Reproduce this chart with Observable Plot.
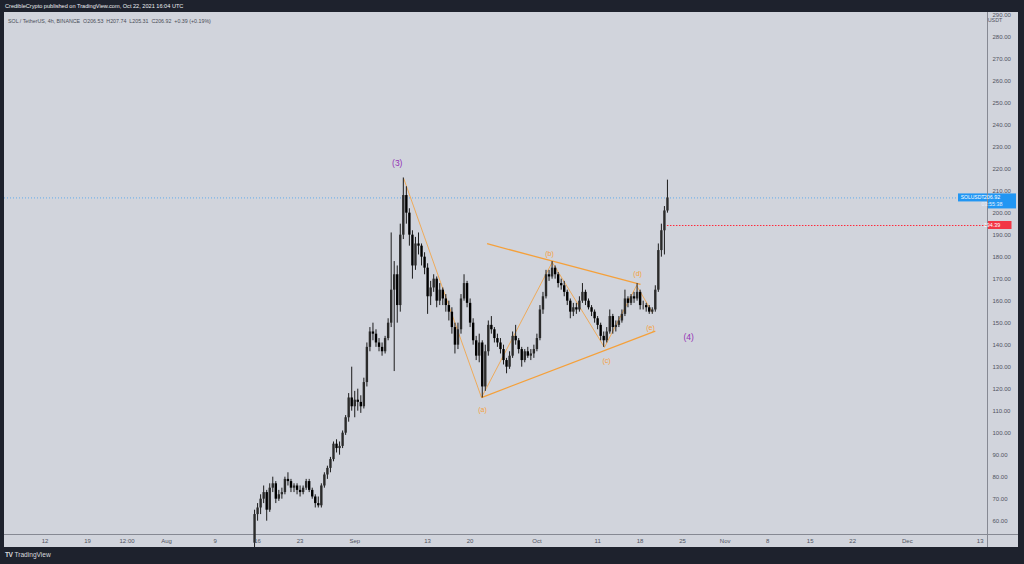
<!DOCTYPE html>
<html><head><meta charset="utf-8">
<script src="https://cdn.jsdelivr.net/npm/d3@7"></script>
<script src="https://cdn.jsdelivr.net/npm/@observablehq/plot@0.6"></script>
<style>
html,body{margin:0;padding:0;background:#1e222d;width:1024px;height:564px;overflow:hidden;font-family:"Liberation Sans",Arial,sans-serif;}
#pane{position:absolute;left:4px;top:12px;width:1014px;height:535px;background:#d1d4dc;}
#chart{position:absolute;left:0;top:0;}
#hdr{position:absolute;left:5px;top:2.5px;font-size:5.6px;color:#eceef2;white-space:nowrap;}
#legend{position:absolute;left:8px;top:17.5px;font-size:5.3px;color:#4a4d57;white-space:nowrap;}
#logo{position:absolute;left:5px;top:551px;font-size:6.6px;color:#d8d9de;white-space:nowrap;}
#logo b{font-weight:bold;letter-spacing:-0.5px;margin-right:2px;}
.vsep{position:absolute;left:987px;top:12px;width:1px;height:535px;background:#868993;}
.hsep{position:absolute;left:4px;top:534px;width:1014px;height:1px;background:#868993;}
</style></head>
<body>
<div id="pane"></div>
<div class="vsep"></div>
<div class="hsep"></div>
<div id="chart"></div>
<div id="hdr">CredibleCrypto published on TradingView.com, Oct 22, 2021 16:04 UTC</div>
<div id="legend">SOL / TetherUS, 4h, BINANCE &nbsp;O206.53 &nbsp;H207.74 &nbsp;L205.31 &nbsp;C206.92 &nbsp;+0.39 (+0.19%)</div>
<div id="logo"><b>TV</b>TradingView</div>
<script>
// ---- candle data (12h bars) ----
const opens = [
 50,63,66,70,73,65,75,77,70,72,
 73,79,78,75,76,74,73,75,78,74,
 71,68,67,76,81,84,88,95,93,94,
 100,107,116,112,115,114,112,123,139,146,
 145,141,139,137,143,150,165,172,158,190,
 208,200,190,176,186,185,180,175,162,166,
 170,160,165,161,158,155,148,140,147,161,
 168,159,150,142,135,141,121,137,149,147,
 143,141,138,133,130,135,144,142,138,133,
 137,135,136,138,143,156,162,172,171,175,
 172,168,167,164,160,155,157,156,160,164,
 160,157,155,152,149,144,142,146,153,148,
 149,151,154,161,159,162,161,164,158,158,
 157,155,156,165,183,192,201];
const highs = [
 65,68,72,76,74,77,80,78,74,75,
 80,82,79,77,77,76,76,79,79,75,
 72,71,77,82,85,89,96,97,96,101,
 108,118,130,119,120,117,125,141,148,150,
 147,143,141,144,152,191,178,176,195,216,
 212,202,192,189,191,186,182,177,169,172,
 171,168,166,163,160,157,150,150,163,172,
 169,161,152,144,145,142,140,151,153,148,
 145,143,140,134,137,146,149,143,139,138,
 139,138,140,145,158,164,174,174,178,176,
 173,170,169,165,161,159,159,162,168,165,
 161,158,156,153,150,146,148,156,154,151,
 153,156,165,162,163,164,168,165,160,159,
 158,157,167,186,195,203,215];
const lows = [
 48,60,63,68,60,64,73,68,69,70,
 72,76,73,73,72,71,72,74,73,70,
 66,66,66,75,79,82,87,91,90,93,
 99,105,110,107,110,109,111,121,137,142,
 139,137,135,136,142,148,128,150,155,188,
 195,185,170,174,181,176,172,154,158,164,
 157,158,158,155,151,145,136,138,145,160,
 157,148,140,133,132,116,119,135,145,141,
 139,136,131,127,129,134,140,136,130,132,
 134,133,134,137,142,154,161,169,170,170,
 166,165,162,158,152,153,154,155,159,158,
 156,153,150,147,142,139,141,145,145,146,
 148,150,153,157,158,159,160,156,156,155,
 154,154,155,164,180,181,200];
const closes = [
 63,66,70,73,65,75,77,70,72,73,
 79,78,75,76,74,73,75,78,74,71,
 68,67,76,81,84,88,95,93,94,100,
 107,116,112,115,114,112,123,139,146,145,
 141,139,137,143,150,165,172,158,190,208,
 200,190,176,186,185,180,175,162,166,170,
 160,165,161,158,155,148,140,147,161,168,
 159,150,142,135,141,121,137,149,147,143,
 141,138,133,130,135,144,142,138,133,137,
 135,136,138,143,156,162,172,171,175,172,
 168,167,164,160,155,157,156,160,164,160,
 157,155,152,149,144,142,146,153,148,149,
 151,154,161,159,162,161,164,158,158,157,
 155,156,165,183,192,201,206.92];
const firstBar = "2021-08-15T12:00Z";
const barHours = 12;

// ---- Elliott wave annotation ----
const waveTimes  = ["2021-09-09T02:00Z","2021-09-21T21:00Z","2021-10-03T12:30Z","2021-10-12T03:00Z","2021-10-17T10:00Z","2021-10-20T00:00Z"];
const waveValues = [215.6,116.2,177.7,139,167.1,154.9];
const trendStartTimes = ["2021-09-22T19:00Z","2021-09-21T21:00Z"];
const trendStartValues = [186.1,116.2];
const trendEndTimes = ["2021-10-18T01:30Z","2021-10-20T12:00Z"];
const trendEndValues = [167.6,146.4];
const subLabels = ["(a)","(b)","(c)","(d)","(e)"];
const subLabelTimes = ["2021-09-22T01:00Z","2021-10-03T02:00Z","2021-10-12T11:00Z","2021-10-17T14:00Z","2021-10-19T17:00Z"];
const subLabelValues = [110.8,181.7,133,172.6,148];
const degLabels = ["(3)","(4)"];
const degLabelTimes = ["2021-09-08T00:00Z","2021-10-26T00:00Z"];
const degLabelValues = [222.6,143.5];

// ---- price lines ----
const lastPrice = 206.92;
const countdown = "03:55:38";
const redLevel = 194.39;
const symbol = "SOLUSDT";

// ---- axes ----
const xTickDates = ["2021-07-12","2021-07-19","2021-07-25T12:00","2021-08-01","2021-08-09","2021-08-16","2021-08-23","2021-09-01","2021-09-13","2021-09-20","2021-10-01","2021-10-11","2021-10-18","2021-10-25","2021-11-01","2021-11-08","2021-11-15","2021-11-22","2021-12-01","2021-12-13"];
const xTickLabels = ["12","19","12:00","Aug","9","16","23","Sep","13","20","Oct","11","18","25","Nov","8","15","22","Dec","13"];
const yTicks = [60,70,80,90,100,110,120,130,140,150,160,170,180,190,200,210,220,230,240,250,260,270,280,290];
const xDomain = ["2021-07-05T07:40Z","2021-12-14T05:00Z"];
const yDomain = [53.95,291.2];

const toDate = s => new Date(s.length <= 16 && !s.endsWith("Z") ? s + (s.length === 10 ? "T00:00Z" : "Z") : s);
const t0 = +new Date(firstBar);
const candles = closes.map((c,i)=>({time:new Date(t0 + i*barHours*3600e3), open:opens[i], high:highs[i], low:lows[i], close:c}));
const wave = waveTimes.map((t,i)=>({t:toDate(t), v:waveValues[i]}));
const trends = trendStartTimes.map((t,i)=>({t1:toDate(t), v1:trendStartValues[i], t2:toDate(trendEndTimes[i]), v2:trendEndValues[i]}));
const subs = subLabels.map((l,i)=>({l, t:toDate(subLabelTimes[i]), v:subLabelValues[i]}));
const degs = degLabels.map((l,i)=>({l, t:toDate(degLabelTimes[i]), v:degLabelValues[i]}));
const tickDates = xTickDates.map(toDate);
const tickMap = new Map(tickDates.map((d,i)=>[+d, xTickLabels[i]]));

const orange = "#f5a03a";
const purple = "#9331b5";
const lastTime = candles[candles.length-1].time;

const plot = Plot.plot({
  width:1024, height:564,
  marginLeft:4, marginRight:37, marginTop:12, marginBottom:30,
  style:{background:"transparent", fontFamily:"Liberation Sans, Arial, sans-serif", fontSize:"6px", color:"#50535e"},
  x:{type:"utc", domain:xDomain.map(toDate), label:null},
  y:{domain:yDomain, label:null},
  marks:[
    Plot.ruleY([lastPrice], {stroke:"#2196f3", strokeWidth:0.8, strokeDasharray:"1,2", strokeOpacity:0.8}),
    Plot.ruleY([redLevel], {x1:lastTime, x2:toDate(xDomain[1]), stroke:"#ff2a3c", strokeWidth:1.1, strokeDasharray:"1.5,1.5"}),
    Plot.line(wave, {x:"t", y:"v", stroke:orange, strokeWidth:0.8}),
    Plot.link(trends, {x1:"t1", y1:"v1", x2:"t2", y2:"v2", stroke:orange, strokeWidth:1.3}),
    Plot.ruleX(candles, {x:"time", y1:"low", y2:"high", stroke:"#1c1c1c", strokeWidth:1}),
    Plot.ruleX(candles, {x:"time", y1:"open", y2:"close", stroke:d => d.close >= d.open ? "#2b2b2b" : "#000", strokeWidth:2.4}),
    Plot.text(subs, {x:"t", y:"v", text:"l", fill:orange, fontSize:7}),
    Plot.text(degs, {x:"t", y:"v", text:"l", fill:purple, fontSize:8.5}),
    Plot.axisY({anchor:"right", ticks:yTicks, tickSize:0, tickPadding:5, tickFormat:d=>d.toFixed(2), fill:"#50535e", fontSize:6, label:null}),
    Plot.axisX({anchor:"bottom", ticks:tickDates, tickSize:0, tickPadding:4.5, tickFormat:d=>tickMap.get(+d), fill:"#50535e", fontSize:6, label:null})
  ]
});
document.getElementById("chart").appendChild(plot);

// price tags on the axis, placed through the plot's own y scale
const ys = plot.scale("y");
const svg = d3.select(plot);
const yLast = ys.apply(lastPrice), yRed = ys.apply(redLevel);
const g = svg.append("g").attr("font-family","Liberation Sans, Arial, sans-serif").attr("font-size",5.4);
g.append("rect").attr("x",958).attr("y",yLast-4).attr("width",29).attr("height",8).attr("fill","#2196f3");
g.append("text").attr("x",972.5).attr("y",yLast+2).attr("text-anchor","middle").attr("font-size",5).attr("fill","#fff").text(symbol);
g.append("rect").attr("x",988).attr("y",yLast-4).attr("width",28).attr("height",15).attr("fill","#2196f3");
g.append("text").attr("x",992).attr("y",yLast+2).attr("fill","#fff").text(lastPrice.toFixed(2));
g.append("text").attr("x",992).attr("y",yLast+9).attr("fill","#e3f0fd").text(countdown);
g.append("rect").attr("x",988).attr("y",yRed-4).attr("width",23.5).attr("height",8).attr("fill","#f23645");
g.append("text").attr("x",992).attr("y",yRed+2).attr("fill","#fff").text(redLevel.toFixed(2));
g.append("text").attr("x",995).attr("y",22).attr("fill","#50535e").text("USDT");
</script>
</body></html>
